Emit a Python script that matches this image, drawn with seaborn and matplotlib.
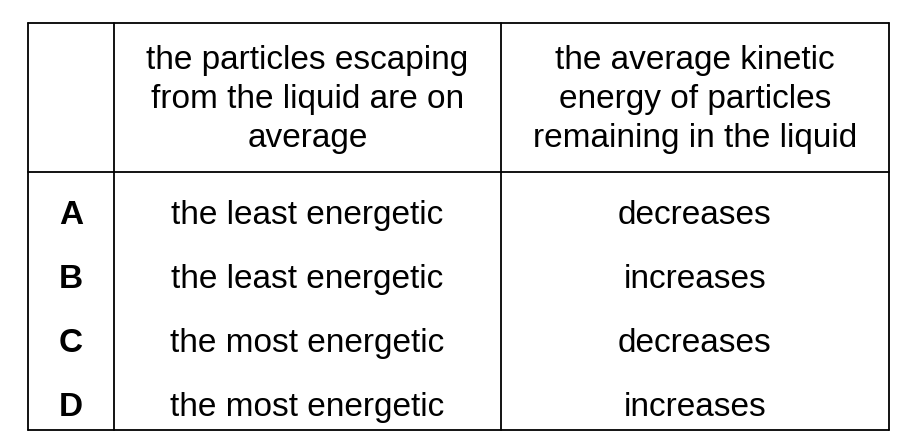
import matplotlib.pyplot as plt
import seaborn as sns

sns.set_theme(style="white")
plt.rcParams['font.family'] = ['Liberation Sans', 'DejaVu Sans']

# table content
row_labels = ['A', 'B', 'C', 'D']
col_headers = [['the particles escaping', 'from the liquid are on', 'average'],
               ['the average kinetic', 'energy of particles', 'remaining in the liquid']]
escaping = ['the least energetic', 'the least energetic',
            'the most energetic', 'the most energetic']
kinetic = ['decreases', 'increases', 'decreases', 'increases']

# layout in pixel units
x_edges = [28, 114, 501, 889]
y_top, y_head, y_bot = 23, 172, 430
head_base = [69, 108, 147]
row_base = [224, 288, 352, 416]

fig = plt.figure(figsize=(9.04, 4.48), dpi=100)
ax = fig.add_axes([0, 0, 1, 1])
ax.set_xlim(0, 904)
ax.set_ylim(448, 0)
ax.axis('off')

lw = 1.3
for x in x_edges:
    ax.plot([x, x], [y_top, y_bot], color='black', lw=lw)
for y in (y_top, y_head, y_bot):
    ax.plot([x_edges[0], x_edges[-1]], [y, y], color='black', lw=lw)

fs = 24
for i, lines in enumerate(col_headers):
    cx = (x_edges[i + 1] + x_edges[i + 2]) / 2
    for yb, line in zip(head_base, lines):
        ax.text(cx, yb, line, ha='center', va='baseline', fontsize=fs,
                color='black')

for i, lab in enumerate(row_labels):
    y = row_base[i]
    ax.text((x_edges[0] + x_edges[1]) / 2, y, lab, ha='center', va='baseline',
            fontsize=fs, fontweight='bold', color='black')
    ax.text((x_edges[1] + x_edges[2]) / 2, y, escaping[i], ha='center',
            va='baseline', fontsize=fs, color='black')
    ax.text((x_edges[2] + x_edges[3]) / 2, y, kinetic[i], ha='center',
            va='baseline', fontsize=fs, color='black')

fig.savefig('out.png', dpi=100)
